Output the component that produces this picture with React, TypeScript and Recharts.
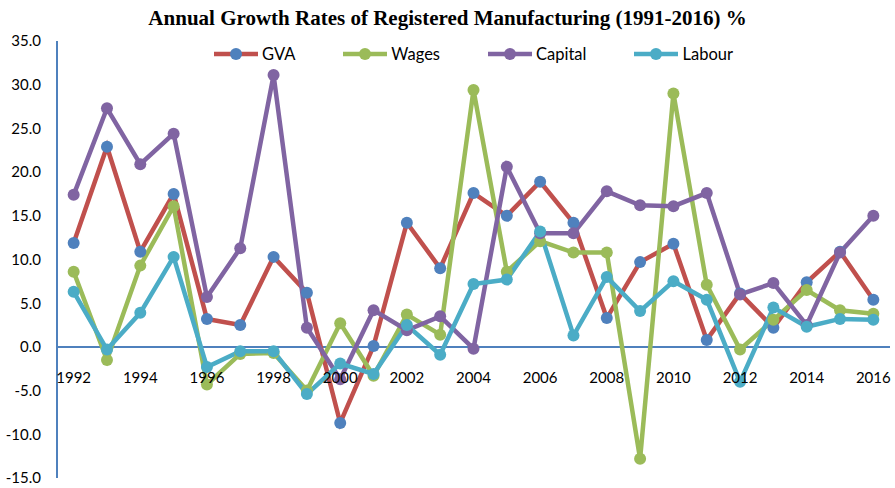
import React from 'react';
import { LineChart, Line, XAxis, YAxis, Legend, ReferenceLine } from 'recharts';

const years = [
    '1992', '1993', '1994', '1995', '1996', '1997', '1998', '1999', '2000', '2001', '2002', '2003', '2004',
    '2005', '2006', '2007', '2008', '2009', '2010', '2011', '2012', '2013', '2014', '2015', '2016',
];

const gva = [11.9, 22.9, 10.9, 17.5, 3.2, 2.5, 10.3, 6.2, -8.7, 0.1, 14.2, 9.0, 17.6, 15.0, 18.9, 14.2, 3.3, 9.7, 11.8, 0.8, 6.1, 2.2, 7.4, 10.9, 5.4];
const wages = [8.6, -1.5, 9.3, 16.1, -4.3, -0.8, -0.7, -5.0, 2.7, -3.3, 3.7, 1.4, 29.4, 8.6, 12.1, 10.8, 10.8, -12.8, 29.0, 7.1, -0.3, 3.1, 6.5, 4.2, 3.8];
const capital = [17.4, 27.3, 20.9, 24.4, 5.7, 11.3, 31.1, 2.2, -3.7, 4.2, 1.9, 3.5, -0.2, 20.6, 13.0, 13.0, 17.8, 16.2, 16.1, 17.6, 6.0, 7.3, 2.5, 10.8, 15.0];
const labour = [6.3, -0.3, 3.9, 10.3, -2.3, -0.5, -0.5, -5.4, -1.9, -3.1, 2.5, -0.9, 7.2, 7.7, 13.2, 1.3, 8.0, 4.1, 7.5, 5.4, -4.0, 4.5, 2.3, 3.2, 3.1];

const yTicks = [-15, -10, -5, 0, 5, 10, 15, 20, 25, 30, 35];
const yMin = -15;
const yMax = 35;

const data = years.map((year, i) => ({
    year,
    gva: gva[i],
    wages: wages[i],
    capital: capital[i],
    labour: labour[i],
}));

const W = 895;
const H = 488;
const margin = { top: 41, right: 5, bottom: 0, left: 0 };
const yAxisWidth = 57;
const xAxisHeight = 10;
const plotHeight = H - margin.top - margin.bottom - xAxisHeight;
// distance from zero line to plot bottom
const zeroFromBottom = ((0 - yMin) / (yMax - yMin)) * plotHeight;
const bandHalf = (W - yAxisWidth - margin.right) / years.length / 2;

const series = [
    { key: 'gva', name: 'GVA', line: '#C0504D', dot: '#4F81BD' },
    { key: 'wages', name: 'Wages', line: '#9BBB59', dot: '#9BBB59' },
    { key: 'capital', name: 'Capital', line: '#8064A2', dot: '#8064A2' },
    { key: 'labour', name: 'Labour', line: '#4BACC6', dot: '#4BACC6' },
];

const font = 'Lato, "Open Sans", sans-serif';

const YearTick = (props: any) => {
    const { x, y, payload } = props;
    return (
        <text x={x} y={y - zeroFromBottom + 28} textAnchor="middle" fontSize={15} fontFamily={font} fill="#000">
            {payload.value}
        </text>
    );
};

const LegendContent = () => (
    <div style={{ display: 'flex', justifyContent: 'center', gap: 48, fontFamily: font, fontSize: 16.5, color: '#000' }}>
        {series.map((s) => (
            <div key={s.key} style={{ display: 'flex', alignItems: 'center', gap: 4 }}>
                <svg width={44} height={14}>
                    <line x1={0} y1={7} x2={44} y2={7} stroke={s.line} strokeWidth={4.5} />
                    <circle cx={22} cy={7} r={6} fill={s.dot} />
                </svg>
                <span>{s.name}</span>
            </div>
        ))}
    </div>
);

export default function App() {
    return (
        <div style={{ position: 'relative', width: W, height: H, background: '#fff' }}>
            <style>{'body { margin: 0; }'}</style>
            <div
                style={{
                    position: 'absolute',
                    top: 5,
                    left: 0,
                    width: W,
                    textAlign: 'center',
                    fontFamily: '"Liberation Serif", "Times New Roman", serif',
                    fontWeight: 'bold',
                    fontSize: 21,
                    lineHeight: '26px',
                    color: '#000',
                }}
            >
                Annual Growth Rates of Registered Manufacturing (1991-2016) %
            </div>
            <LineChart width={W} height={H} data={data} margin={margin}>
                <XAxis
                    dataKey="year"
                    interval={1}
                    height={xAxisHeight}
                    axisLine={false}
                    tickLine={false}
                    tick={<YearTick />}
                    padding={{ left: bandHalf, right: bandHalf }}
                />
                <YAxis
                    width={yAxisWidth}
                    domain={[yMin, yMax]}
                    ticks={yTicks}
                    interval={0}
                    tickFormatter={(v: number) => v.toFixed(1)}
                    axisLine={{ stroke: '#4F81BD', strokeWidth: 2 }}
                    tickLine={false}
                    tickMargin={10}
                    tick={{ fontSize: 15, fontFamily: font, fill: '#000' }}
                />
                <ReferenceLine y={0} stroke="#4F81BD" strokeWidth={2} />
                <Legend
                    verticalAlign="middle"
                    align="center"
                    content={<LegendContent />}
                    wrapperStyle={{ top: 44, left: yAxisWidth, width: W - yAxisWidth - margin.right }}
                />
                {series.map((s) => (
                    <Line
                        key={s.key}
                        dataKey={s.key}
                        name={s.name}
                        type="linear"
                        stroke={s.line}
                        strokeWidth={4.5}
                        dot={{ r: 6, fill: s.dot, stroke: s.dot, strokeWidth: 0 }}
                        activeDot={false}
                        isAnimationActive={false}
                    />
                ))}
            </LineChart>
        </div>
    );
}
